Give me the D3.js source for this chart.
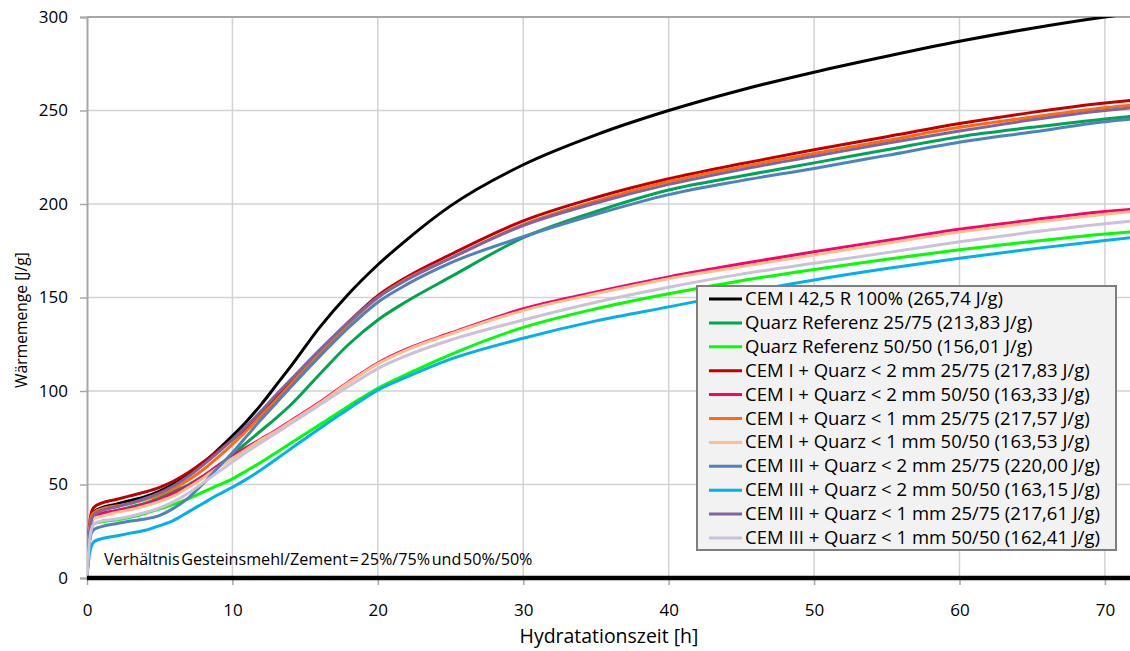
<!DOCTYPE html>
<html>
<head>
<meta charset="utf-8">
<script src="https://cdn.jsdelivr.net/npm/d3@7"></script>
<style>
  html, body { margin: 0; padding: 0; background: #fff; }
  svg { display: block; font-family: "Open Sans", "Liberation Sans", sans-serif; }
</style>
</head>
<body>
<svg id="chart" width="1130" height="651"></svg>
<script>
// Hydration time [h] at which each series was sampled
const hours = [0, 0.15, 0.3, 0.5, 1, 2, 3, 4, 5, 6, 7, 8, 9, 10, 11, 12, 13, 14, 16, 18, 20, 22, 25, 30, 35, 40, 45, 50, 55, 60, 65, 70, 72];

// Cumulative heat [J/g]
const cem1_100      = [0, 22, 32, 35.5, 37.5, 39.5, 41.5, 43.5, 46.5, 50.5, 55.5, 61.5, 68.5, 76, 84, 93, 103, 113, 134, 152, 167.5, 181, 199, 221, 237, 250, 261, 270.5, 279, 287, 294, 300, 302];
const quarz_25_75   = [0, 20, 29, 32.5, 34, 36, 38, 40, 43, 46.5, 50, 54.5, 60, 66, 72.5, 79, 85.5, 92.5, 109, 125, 138, 148, 161, 182, 196, 207.5, 215, 222, 229, 236, 241, 245.5, 247];
const quarz_50_50   = [0, 17, 26, 29, 30, 31, 32.5, 34.5, 37, 39.5, 42.5, 46, 49.5, 53, 57.5, 62, 67, 72, 82, 92, 101.5, 109, 119.5, 134, 144, 152, 159, 165, 170.5, 175.5, 180, 184, 185.2];
const c1_2mm_25_75  = [0, 26, 35, 38, 40, 42, 44, 46, 48.5, 52, 56.5, 62, 68, 74, 80.5, 88, 96, 104.5, 121, 137, 151, 161, 173, 191, 203.5, 213.5, 221.5, 229, 236, 243, 249, 254, 255.5];
const c1_2mm_50_50  = [0, 24, 31, 33.5, 34.5, 36, 37.5, 39.5, 42, 45.5, 49.5, 54.5, 60, 65, 70, 74.5, 79, 84, 94, 105, 115, 122.5, 131, 144, 153, 161, 168, 174.5, 180.5, 186.5, 191.5, 196, 197.3];
const c1_1mm_25_75  = [0, 24, 33, 35, 37, 38.5, 40, 42, 44.5, 48, 52.5, 58, 64.5, 71.5, 79, 87, 95, 103.5, 120, 136, 150, 160, 171, 189, 201.5, 212, 220, 227, 234, 241, 246.5, 251.5, 253];
const c1_1mm_50_50  = [0, 23, 30, 32, 33, 35, 36.5, 38.5, 41, 44, 48.5, 53.5, 59, 64, 69, 74, 78.5, 83.5, 93.5, 104.5, 114.5, 122, 130.5, 143, 152, 160, 166.5, 172.7, 179, 185, 190, 194.5, 196];
const c3_2mm_25_75  = [0, 18, 24, 26, 27.5, 29, 30.5, 31.5, 33.5, 37.5, 43, 50.5, 59, 67, 76, 85, 93.5, 102, 118.5, 134, 147.5, 157, 168.5, 182.5, 194.5, 205, 212.5, 219, 226, 233, 238.5, 244, 245.5];
const c3_2mm_50_50  = [0, 12, 17, 19.5, 21, 22.5, 24, 25.5, 28, 31, 35.5, 40, 44.5, 48.5, 53, 58, 63.5, 69, 80, 90.5, 100.5, 107.5, 117, 128.2, 137.5, 145, 152.5, 159.4, 165.5, 171, 176, 180.5, 182.2];
const c3_1mm_25_75  = [0, 22, 31, 34, 36, 38, 40, 42.5, 45.5, 49.5, 54.5, 60.5, 67, 74, 81.5, 89.5, 98, 106, 122, 137, 150, 159.5, 171, 188.5, 200.5, 210.5, 218.5, 225.5, 232.5, 239, 245, 250, 251.5];
const c3_1mm_50_50  = [0, 18, 26, 29, 30.5, 31.5, 33, 35, 37.5, 41, 45.5, 51, 56.5, 62, 67.5, 72.5, 77.5, 82.5, 92.5, 102.5, 112, 119, 127.3, 138, 147.5, 155.5, 162.5, 168.3, 174, 179.8, 185, 189.5, 191];

const seriesNames = [
  "CEM I 42,5 R 100% (265,74 J/g)",
  "Quarz Referenz 25/75 (213,83 J/g)",
  "Quarz Referenz 50/50 (156,01 J/g)",
  "CEM I + Quarz < 2 mm 25/75 (217,83 J/g)",
  "CEM I + Quarz < 2 mm 50/50 (163,33 J/g)",
  "CEM I + Quarz < 1 mm 25/75 (217,57 J/g)",
  "CEM I + Quarz < 1 mm 50/50 (163,53 J/g)",
  "CEM III + Quarz < 2 mm 25/75 (220,00 J/g)",
  "CEM III + Quarz < 2 mm 50/50 (163,15 J/g)",
  "CEM III + Quarz < 1 mm 25/75 (217,61 J/g)",
  "CEM III + Quarz < 1 mm 50/50 (162,41 J/g)"
];
const seriesValues = [cem1_100, quarz_25_75, quarz_50_50, c1_2mm_25_75, c1_2mm_50_50,
  c1_1mm_25_75, c1_1mm_50_50, c3_2mm_25_75, c3_2mm_50_50, c3_1mm_25_75, c3_1mm_50_50];
const seriesColors = ["#000000", "#00a550", "#00ff00", "#c00000", "#ff0066",
  "#ff6a10", "#fac090", "#4f81bd", "#00b0f0", "#8064a2", "#ccc0da"];

const xTicks = [0, 10, 20, 30, 40, 50, 60, 70];
const yTicks = [0, 50, 100, 150, 200, 250, 300];

const svg = d3.select("#chart");
svg.append("rect").attr("width", 1130).attr("height", 651).attr("fill", "#fff");

// scale a text selection's font so its widest item spans the given width
function fitWidth(sel, width) {
  let widest = 0;
  sel.each(function () { widest = Math.max(widest, this.getComputedTextLength()); });
  const fs = parseFloat(sel.attr("font-size"));
  if (widest > 0) sel.attr("font-size", (fs * width / widest).toFixed(2));
}

const plotLeft = 87, plotTop = 17, plotBottom = 578, plotRight = 1134;
const x = d3.scaleLinear().domain([0, 72]).range([plotLeft, plotRight]);
const y = d3.scaleLinear().domain([0, 300]).range([plotBottom, plotTop]);

// grid
const grid = svg.append("g").attr("stroke", "#d2d2d2").attr("stroke-width", 1.5);
grid.selectAll("line.v").data(xTicks.filter(d => d > 0)).join("line").attr("class", "v")
  .attr("x1", d => x(d)).attr("x2", d => x(d)).attr("y1", plotTop).attr("y2", plotBottom);
grid.selectAll("line.h").data(yTicks.filter(d => d > 0 && d < 300)).join("line").attr("class", "h")
  .attr("x1", plotLeft).attr("x2", plotRight).attr("y1", d => y(d)).attr("y2", d => y(d));

// plot area top border
svg.append("line").attr("x1", plotLeft).attr("x2", plotRight).attr("y1", y(300)).attr("y2", y(300))
  .attr("stroke", "#a6a6a6").attr("stroke-width", 2);

// y axis
const yAxis = svg.append("g").attr("transform", `translate(${plotLeft},0)`)
  .call(d3.axisLeft(y).tickValues(yTicks).tickSize(7).tickPadding(12));
yAxis.attr("font-family", null).attr("font-size", null);
yAxis.select(".domain").attr("stroke", "#a6a6a6").attr("stroke-width", 2);
yAxis.selectAll(".tick line").attr("stroke", "#a6a6a6").attr("stroke-width", 1.5);
yAxis.selectAll("text").attr("font-size", 17).attr("fill", "#000");

// x axis
const xAxis = svg.append("g").attr("transform", `translate(0,${plotBottom})`)
  .call(d3.axisBottom(x).tickValues(xTicks).tickSize(7).tickPadding(19));
xAxis.attr("font-family", null).attr("font-size", null);
xAxis.select(".domain").remove();
xAxis.selectAll(".tick line").attr("stroke", "#a6a6a6").attr("stroke-width", 1.5);
xAxis.selectAll("text").attr("font-size", 17).attr("fill", "#000");

// curves
svg.append("clipPath").attr("id", "plotClip").append("rect")
  .attr("x", plotLeft).attr("y", plotTop).attr("width", plotRight - plotLeft).attr("height", plotBottom - plotTop);

const line = d3.line().x(d => x(d[0])).y(d => y(d[1])).curve(d3.curveMonotoneX);
const curves = svg.append("g").attr("clip-path", "url(#plotClip)");
seriesValues.forEach((vals, i) => {
  curves.append("path")
    .attr("d", line(hours.map((h, j) => [h, vals[j]])))
    .attr("fill", "none")
    .attr("stroke", seriesColors[i])
    .attr("stroke-width", 3)
    .attr("stroke-linejoin", "round");
});

// thick zero line along the time axis
svg.append("line").attr("x1", plotLeft).attr("x2", 1130).attr("y1", y(0)).attr("y2", y(0))
  .attr("stroke", "#000").attr("stroke-width", 4.5);

// note inside the plot
const note = svg.append("text").attr("x", 104).attr("y", 565).attr("font-size", 15)
  .attr("word-spacing", -2.5)
  .text("Verhältnis Gesteinsmehl/Zement = 25%/75% und 50%/50%");
fitWidth(note, 428);

// axis titles
const xTitle = svg.append("text").attr("x", 609).attr("y", 643).attr("text-anchor", "middle")
  .attr("font-size", 17).text("Hydratationszeit [h]");
fitWidth(xTitle, 179);
const yTitle = svg.append("text").attr("transform", "translate(27,320) rotate(-90)")
  .attr("text-anchor", "middle").attr("font-size", 17).text("Wärmemenge [J/g]");
fitWidth(yTitle, 136);

// legend
const lg = svg.append("g");
lg.append("rect").attr("x", 697).attr("y", 286).attr("width", 419).attr("height", 264)
  .attr("fill", "#f2f2f2").attr("stroke", "#7f7f7f").attr("stroke-width", 2);
const rowH = 23.9;
seriesNames.forEach((name, i) => {
  const cy = 299 + i * rowH;
  lg.append("line").attr("x1", 709).attr("x2", 742).attr("y1", cy).attr("y2", cy)
    .attr("stroke", seriesColors[i]).attr("stroke-width", 3);
  lg.append("text").attr("class", "lgText").attr("x", 745).attr("y", cy + 6)
    .attr("font-size", 16).text(name);
});
fitWidth(lg.selectAll("text.lgText"), 355);
</script>
</body>
</html>
